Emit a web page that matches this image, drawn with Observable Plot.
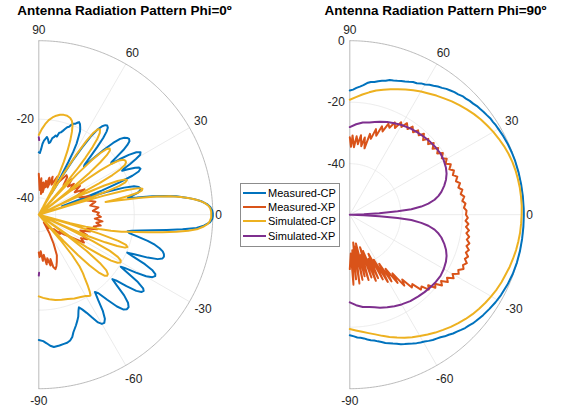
<!DOCTYPE html>
<html>
<head>
<meta charset="utf-8">
<script src="https://cdn.jsdelivr.net/npm/d3@7"></script>
<script src="https://cdn.jsdelivr.net/npm/@observablehq/plot@0.6"></script>
<style>
  html, body { margin: 0; padding: 0; background: #fff; }
  #wrap { position: relative; width: 569px; height: 410px; overflow: hidden; font-family: "Liberation Sans", Arial, sans-serif; }
  .panel { position: absolute; top: 0; }
  .title { position: absolute; top: 4px; font-weight: bold; font-size: 13.5px; line-height: 14px; color: #000; white-space: nowrap; transform: translateX(-50%); z-index: 3; }
  #legend { position: absolute; left: 240px; top: 183px; width: 98px; height: 62px; border: 1px solid #8c8c8c; background: #fff; z-index: 4; font-size: 11px; color: #000; }
  .row { position: absolute; left: 2px; height: 14px; line-height: 14px; white-space: nowrap; }
  .row span.sw { position: absolute; left: 0; top: 6px; width: 23px; height: 2px; }
  .row span.tx { position: absolute; left: 25px; top: 0; }
</style>
</head>
<body>
<div id="wrap"></div>
<script>
// ---------------- data ----------------
const seriesNames = ["Measured-CP", "Measured-XP", "Simulated-CP", "Simulated-XP"];
const seriesColors = ["#0072BD", "#D95319", "#EDB120", "#7E2F8E"];
const titles = ["Antenna Radiation Pattern Phi=0º", "Antenna Radiation Pattern Phi=90º"];
const thetaTicks = [90, 60, 30, 0, -30, -60, -90];
const thetaTickLabels = ["90", "60", "30", "0", "-30", "-60", "-90"];
const phi0RLim = [-44.3, 0];
const phi0RTicks = [-40, -20];
const phi90RLim = [-56.6, 0];
const phi90RTicks = [-40, -20, 0];

// Phi = 0 cut: [theta (deg), gain (dB)]
const phi0MeasuredCP = [[90,-28.4],[89,-28.6],[88,-27.6],[87,-26.2],[86,-25.4],[85,-24.9],[84,-24.4],[83,-25],[82,-25.9],[81,-25.6],[80,-24.5],[79,-24.2],[78,-23.7],[77,-23.9],[76,-22.8],[75,-22.6],[74,-22.1],[73,-21.5],[72,-20.9],[71,-20.6],[70,-19.9],[69,-19.5],[68,-19.3],[67,-18.8],[66.5,-18.6],[65.5,-19],[64.5,-19.8],[63.7,-20.6],[63,-22],[62,-23.8],[61.3,-26],[60.7,-29],[60,-33],[59.3,-38],
  [58.6,-33],[58,-28],[57.2,-24],[56.4,-20.5],[55.4,-18],[54.4,-16.6],[53.4,-15.9],[52.5,-15.7],[51.6,-16],[50.8,-17],[50,-18.8],[49.2,-21.5],[48.4,-24.5],[47.6,-27],
  [46.8,-27.5],[46,-24.5],[45,-21],[44,-18],[43,-16],[42,-15],[41,-14.5],[40,-14.3],[39,-14.6],[38.2,-15.6],[37.4,-17.2],[36.6,-19.5],[35.8,-21.5],
  [35.2,-21.8],[34.5,-19.5],[33.6,-16.8],[32.6,-14.8],[31.6,-13.9],[30.6,-14.3],[29.8,-15.8],[29,-17.8],[28.3,-19.8],
  [27.8,-20.3],[27,-18.8],[26,-17],[25.2,-16.1],[24.3,-15.9],[23.4,-16.6],[22.6,-18.5],[21.8,-22],[21,-27],[20.4,-33],[20,-38],
  [19.4,-32],[18.6,-26],[17.6,-21.5],[16.6,-19],[15.5,-17.9],[14.5,-17.6],[13.5,-17.7],[12.5,-18.5],[11.5,-20],[10.7,-21.2],
  [10,-19],[9.2,-15],[8.5,-12],[7.6,-9],[6.6,-6.5],[5.6,-4.3],[4.6,-2.6],[3.6,-1.4],[2.6,-0.6],[1.5,-0.15],[0.5,0],[0,0],
  [-0.5,0],[-1.5,-0.15],[-2.6,-0.7],[-3.8,-2.2],[-4.8,-4],[-5.8,-7.5],[-6.8,-11.5],[-7.8,-15],[-8.8,-18],[-9.8,-20.3],[-10.6,-21.3],[-11.5,-20.8],[-12.5,-18.5],[-13.5,-15.8],[-14.5,-13.8],[-15.5,-12.4],[-16.5,-11.4],[-17.5,-10.9],[-18.5,-10.7],[-19.5,-10.9],[-20.5,-12],[-21.5,-14.5],[-22.5,-18],[-23.2,-19.8],
  [-24,-18],[-25,-14.5],[-26,-12.2],[-27,-11],[-27.8,-10.8],[-28.8,-11.3],[-29.8,-12.8],[-30.8,-15.5],[-31.8,-18.6],[-32.4,-19.6],
  [-33.2,-17.5],[-34.2,-13.8],[-35.2,-11.8],[-36,-11.3],[-37,-11.6],[-38,-12.8],[-39.2,-15.5],[-40.4,-18.5],[-41.2,-19.4],
  [-42.2,-17.5],[-43.4,-14.4],[-44.6,-12.4],[-45.8,-11.5],[-47,-11.4],[-48.2,-11.9],[-49.6,-13.6],[-51.2,-16.5],[-52.8,-19.2],[-54,-20],
  [-55.2,-17.8],[-56.4,-14.8],[-57.6,-12.9],[-58.8,-12.1],[-60,-12.2],[-61.2,-13],[-62.6,-14.8],[-64,-16.5],[-65.4,-17.8],[-66.6,-18.6],
  [-67.6,-17.8],[-68.8,-16.5],[-70,-15.6],[-71.4,-14.6],[-72.6,-13.8],[-73.6,-13.1],[-74.7,-12],[-76,-11.3],[-77.5,-10.9],[-79,-10.8],[-81,-10.6],[-83.5,-10.4],[-85,-10.8],[-86.5,-11.5],[-88,-12.1],[-90,-12.4]];
const phi0MeasuredXP = [[90,-33.9],[88,-38],[86,-35],[84,-39],[82,-36],[80,-38.5],[78,-35.5],[76.3,-37.1],[74,-34.5],[72,-37],[70,-34],[67,-36],[64,-33.5],[61,-35.5],[57.6,-34],[55,-32],[52.9,-32.3],[50,-34.5],[47,-32],[44,-34],[41.4,-32.4],[38,-34.5],[35,-31.5],[32,-33.5],[29,-31],[26,-33.5],[22.8,-32.8],[20,-30.5],[16.4,-31.5],[13,-29.5],[10,-31],[7,-29],[4,-30.5],[2,-29],[0,-29.4],
  [-2,-28.5],[-4,-30],[-6,-28],[-8,-29.5],[-10,-28.3],[-12,-30],[-14,-29],[-16,-31.5],[-18,-30.5],[-20.8,-33],[-23,-31],[-25,-32.5],[-27,-30.5],[-29,-32],[-31.7,-30.8],[-34,-33.5],[-36,-35],[-38,-36.2],[-40,-37.5],[-42,-37],[-44,-39],[-47,-38.5],[-50,-40.5],[-53,-40],[-57,-41.9],[-60,-39],[-63,-36],[-66,-33],[-69,-31.5],[-71,-30.5],[-73,-29.8],[-74.5,-30.5],[-75.3,-32.6],[-77,-31],[-79,-33],[-81,-31.5],[-83,-34],[-85,-32.5],[-87,-35],[-89,-33.5],[-90,-34.7]];
const phi0SimulatedCP = [[90,-24],[88,-22.5],[86,-21.2],[84,-20.1],[82,-19.3],[80,-18.7],[78,-18.3],[76,-18.1],[74,-18.1],[72,-18.4],[70.5,-19],[69.3,-20],[68.2,-21.6],[67,-23.8],[65.8,-26.5],[64.6,-29.5],[63.4,-33],[62.2,-37],[61,-42],[60.4,-46],
  [59.6,-40],[58.8,-32],[58,-26],[57.2,-22],[56.3,-19.2],[55.3,-17.8],[54.3,-17.6],[53.3,-18.3],[52.4,-19.8],[51.5,-22.3],[50.7,-25.5],[49.9,-29.5],[49.1,-35],[48.5,-41],[48,-46],
  [47.4,-38],[46.6,-30],[45.8,-25],[45,-22],[44.1,-20.3],[43.1,-19.6],[42.1,-19.9],[41.2,-21.3],[40.4,-23.8],[39.6,-27.5],[38.9,-32],[38.3,-38],[37.8,-46],
  [37.2,-38],[36.5,-30],[35.8,-25],[35,-21.8],[34,-19.6],[33,-18.6],[32,-18.3],[31,-18.4],[30,-19],[29.1,-20.5],[28.3,-23],[27.5,-27],[26.8,-32],[26.2,-38],[25.7,-46],
  [25.2,-38],[24.6,-31],[24,-26],[23.2,-22.5],[22.3,-20.6],[21.4,-20.2],[20.5,-20.8],[19.7,-22.5],[19,-25.5],[18.4,-30],[17.9,-36],[17.4,-46],
  [16.9,-36],[16.3,-27],[15.6,-21],[14.9,-18],[14.1,-17.1],[13.3,-17.3],[12.5,-18.5],[11.8,-21],[11.2,-24.5],[10.7,-27],
  [10.2,-23.5],[9.5,-18],[8.8,-14],[8,-10.6],[7.1,-7.8],[6.1,-5.3],[5.1,-3.4],[4.1,-2],[3.1,-1.1],[2.1,-0.6],[1,-0.4],[0,-0.4],
  [-1,-0.4],[-2.1,-0.7],[-3.1,-1.2],[-4.1,-2.2],[-5.1,-3.6],[-6.1,-6],[-7.1,-9],[-8.1,-12.5],[-9.1,-16],[-10.1,-19.3],[-10.8,-21],[-11.6,-22.8],[-12.5,-25.5],[-13.4,-28.5],[-14.3,-32],[-15.3,-36],[-16,-44],
  [-16.7,-36],[-17.4,-28],[-18.2,-23],[-19.1,-20.8],[-20,-20.3],[-20.9,-20.8],[-21.8,-22.8],[-22.6,-26],[-23.4,-30.5],[-24.1,-36],[-24.7,-44],
  [-25.3,-36],[-26,-29],[-27,-24],[-28.1,-21.5],[-29.2,-20.4],[-30.3,-20.2],[-31.4,-20.8],[-32.4,-22.5],[-33.3,-25.5],[-34.2,-29.5],[-35,-35],[-35.7,-44],
  [-36.4,-36],[-37.2,-29],[-38.3,-24.5],[-39.5,-22],[-40.7,-21.1],[-41.8,-21],[-42.9,-21.5],[-44,-23.2],[-45,-26],[-45.9,-30],[-46.7,-35],[-47.4,-44],
  [-48.5,-44],[-49.5,-36],[-50.5,-31],[-51.8,-27.5],[-53,-25.6],[-54.2,-24.2],[-55.5,-22.2],[-56.5,-20.8],[-57.4,-19.9],[-58.5,-20],[-60,-20.4],[-63,-20.8],[-67,-21.1],[-71,-21.6],[-75,-21.9],[-79,-22.2],[-83,-22.6],[-87,-23.1],[-90,-23.5]];
const phi0SimulatedXPTop = [[90,-24.6],[89.7,-25.3]];
const phi0SimulatedXPBottom = [[-90,-28.8],[-89.7,-29.5]];

// Phi = 90 cut
const phi90MeasuredCP = [[90,-16.2],[88.5,-15.9],[87,-15.3],[85.5,-14.8],[84,-14.2],[82.5,-13.4],[81,-12.9],[79.5,-12.7],[78,-12.2],[76.5,-11.8],[75,-11.5],[73.5,-10.9],[72,-10.7],[70.5,-10.4],[69,-10.0],[67.5,-9.7],[66,-9.3],[64.5,-8.8],[63,-8.6],[61.5,-8.0],[60,-7.7],[58.5,-7.0],[57,-6.6],[55.5,-6.0],[54,-5.6],[52.5,-5.0],[51,-4.6],[49.5,-4.2],[48,-3.9],[46.5,-3.4],[45,-3.2],[43.5,-2.8],[42,-2.6],[40.5,-2.2],[39,-2.0],[37.5,-1.7],[36,-1.5],[34.5,-1.2],[33,-1.1],[31.5,-0.9],[30,-0.8],[27,-0.5],[24,-0.3],[21,-0.15],[18,-0.05],[14,0],[10,0.05],[6,0],[2,0],[0,0],[-4,0],[-8,0.05],[-12,0],[-16,-0.05],[-20,-0.2],[-24,-0.5],[-28,-0.9],[-31,-1.3],[-34,-1.8],[-37,-2.3],[-40,-2.9],[-41.5,-3.2],[-43,-3.7],[-44.5,-4.0],[-46,-4.5],[-47.5,-5.0],[-49,-5.4],[-50.5,-6.0],[-52,-6.4],[-53.5,-7.0],[-55,-7.4],[-56.5,-7.7],[-58,-8.2],[-59.5,-8.7],[-61,-9.1],[-62.5,-9.5],[-64,-10.0],[-65.5,-10.5],[-67,-10.9],[-68.5,-11.3],[-70,-11.9],[-71.5,-12.4],[-73,-12.9],[-74.5,-13.3],[-76,-13.9],[-77.5,-14.4],[-79,-14.9],[-80.5,-15.2],[-82,-15.6],[-83.5,-16.1],[-85,-16.4],[-86.5,-16.6],[-88,-17.0],[-90,-17.4]];
const phi90MeasuredXP = [[90,-31.4],[89,-34.5],[88,-30.8],[86.5,-34.6],[85,-31],[83.5,-33.5],[82,-30.5],[80.5,-34],[79,-31],[77.5,-34.5],[76,-29.5],[74.5,-31],[73,-27.5],[71.5,-29.5],[70,-26],[68.5,-27.5],[67,-24.5],[65.5,-25.5],[64,-23.2],[62.5,-24.8],[61,-22.2],[59.5,-23.5],[58,-21.5],[56,-23],[54.5,-21.4],[52.5,-22.8],[51,-21.3],[49,-22.4],[47.5,-20.9],[45.5,-22.6],[44,-21.1],[42,-22.3],[40.5,-20.7],[38.5,-22.2],[37,-20.6],[35,-21.9],[33.5,-20.3],[31.5,-21.5],[30,-20.2],[28,-21.3],[26.5,-19.9],[24.5,-21],[23,-19.8],[21,-20.7],[19.5,-19.5],[17.5,-20.4],[16,-19.3],[14,-20.2],[12.5,-19.1],[10.5,-19.9],[9,-18.9],[7,-19.7],[5.5,-18.8],[3.5,-19.4],[2,-18.6],[0,-18.8],
  [-1.5,-18.2],[-3,-18.9],[-4.5,-17.9],[-6,-18.6],[-7.5,-17.5],[-9,-18.2],[-10.5,-17.1],[-12,-17.7],[-13.5,-16.6],[-15,-17.3],[-16.5,-16.2],[-18,-16.9],[-19.5,-15.8],[-21,-16.5],[-22.5,-15.4],[-24,-16.3],[-25.5,-15.6],[-27,-17],[-28.5,-16.3],[-30,-18],[-31.5,-17],[-33,-18.9],[-34.5,-17.9],[-36,-19.9],[-37.5,-18.8],[-39,-20.9],[-40.5,-20],[-42,-22.3],[-43.5,-21.2],[-45,-23.6],[-46.5,-23],[-48,-26.2],[-49.5,-25.5],[-51,-29.5],[-52.5,-27.5],[-54,-33],[-55,-29.5],[-56.5,-35.5],[-58,-31],[-59,-38],[-60.5,-31.5],[-62,-40],[-63,-33],[-64.5,-42.5],[-66,-34],[-67,-41],[-68.5,-33.5],[-70,-44],[-71,-35],[-72.5,-45.5],[-74,-34.5],[-75,-43],[-76.5,-36],[-78,-47],[-79,-35],[-80.5,-46],[-82,-34],[-83,-47.5],[-84.5,-35.5],[-86,-45],[-87,-33.8],[-88.5,-44],[-90,-38.9]];
const phi90SimulatedCP = [[90,-19.2],[87,-18.3],[84,-17.3],[81,-16.3],[78,-15.3],[75,-14.5],[72,-13.7],[69,-12.9],[66,-12.0],[63,-11.2],[60,-10.3],[57,-9.6],[54,-8.7],[51,-7.9],[48,-7.0],[45,-6.2],[42,-5.4],[39,-4.6],[36,-3.9],[33,-3.3],[30,-2.7],[27,-2.2],[24,-1.7],[21,-1.3],[18,-1.0],[15,-0.8],[12,-0.7],[9,-0.6],[6,-0.6],[3,-0.6],[0,-0.7],[-3,-0.8],[-6,-0.9],[-9,-1.1],[-12,-1.3],[-15,-1.6],[-18,-1.9],[-21,-2.3],[-24,-2.6],[-27,-3.0],[-30,-3.5],[-33,-4.0],[-36,-4.6],[-39,-5.2],[-42,-5.9],[-45,-6.7],[-48,-7.5],[-51,-8.4],[-54,-9.2],[-57,-10.1],[-60,-11.0],[-63,-11.9],[-66,-12.8],[-69,-13.8],[-72,-14.8],[-75,-15.8],[-78,-16.8],[-81,-17.6],[-84,-18.3],[-87,-18.9],[-90,-19.4]];
const phi90SimulatedXP = [[90,-28.1],[86,-27.1],[82,-26.3],[78,-25.9],[75,-25.4],[72,-24.8],[68,-24.1],[64,-23.5],[60,-22.9],[55,-22.3],[50,-21.9],[46,-21.6],[42,-21.3],[38,-21.1],[34,-21.0],[30,-21.3],[26,-21.8],[23,-22.4],[20,-23.3],[17,-24.5],[14,-25.9],[12,-27.1],[10,-28.6],[8,-30.8],[6.5,-33.2],[5,-36.5],[4,-41],[3,-47],[2,-52],[1,-56],[0,-70],
  [-1,-56],[-2,-52],[-3,-47],[-4,-41],[-5,-36.5],[-6.5,-33.2],[-8,-30.8],[-10,-28.6],[-12,-27.1],[-14,-25.9],[-17,-24.5],[-20,-23.3],[-23,-22.4],[-26,-21.8],[-30,-21.3],[-34,-21.0],[-38,-21.1],[-42,-21.3],[-46,-21.6],[-50,-21.9],[-55,-22.3],[-60,-22.9],[-64,-23.5],[-68,-24.1],[-72,-24.8],[-75,-25.4],[-78,-25.9],[-82,-26.3],[-86,-27.1],[-90,-28.1]];

// ---------------- drawing ----------------
const H = 410, CY = 214.2, R = 174;
const rad = t => t * Math.PI / 180;
const labelRadius = {"90": 1.063, "60": 1.075, "30": 1.074, "0": 1.034, "-30": 1.09, "-60": 1.09, "-90": 1.071};

function polarPanel({width, cx, rlim, rticks, lines}) {
  const [rmin, rmax] = rlim;
  const u = v => Math.max(0, Math.min(1, (v - rmin) / (rmax - rmin)));
  const arc = d3.range(-90, 90.001, 0.5);
  const grid = "#e6e6e6", edge = "#a8a8a8", tick = "#262626";
  const marks = [];
  for (const rt of rticks) {
    if (rt < rmax) marks.push(Plot.line(arc, {x: t => u(rt) * Math.cos(rad(t)), y: t => u(rt) * Math.sin(rad(t)), stroke: grid, strokeWidth: 0.8}));
  }
  marks.push(Plot.link([60, 30, 0, -30, -60], {x1: () => 0, y1: () => 0, x2: t => Math.cos(rad(t)), y2: t => Math.sin(rad(t)), stroke: grid, strokeWidth: 0.8}));
  marks.push(Plot.line(arc, {x: t => Math.cos(rad(t)), y: t => Math.sin(rad(t)), stroke: edge, strokeWidth: 0.8}));
  marks.push(Plot.link([0], {x1: () => 0, y1: () => -1, x2: () => 0, y2: () => 1, stroke: edge, strokeWidth: 0.8}));
  marks.push(Plot.text(thetaTicks, {
    x: (t, i) => labelRadius[thetaTickLabels[i]] * Math.cos(rad(t)),
    y: (t, i) => labelRadius[thetaTickLabels[i]] * Math.sin(rad(t)),
    text: (t, i) => thetaTickLabels[i], fontSize: 12, fill: tick
  }));
  marks.push(Plot.text(rticks, {x: () => 0, y: rt => u(rt), text: rt => String(rt), textAnchor: "end", dx: -5, fontSize: 12, fill: tick}));
  for (const ln of lines) {
    marks.push(Plot.line(ln.data, {x: d => u(d[1]) * Math.cos(rad(d[0])), y: d => u(d[1]) * Math.sin(rad(d[0])), stroke: ln.color, strokeWidth: 2, strokeLinejoin: "round", strokeLinecap: "round"}));
  }
  return Plot.plot({
    width, height: H, margin: 0,
    x: {domain: [-cx / R, (width - cx) / R], axis: null},
    y: {domain: [(CY - H) / R, CY / R], axis: null},
    style: {background: "transparent", overflow: "visible", fontFamily: "Liberation Sans, Arial, sans-serif"},
    marks
  });
}

const wrap = document.getElementById("wrap");

const left = polarPanel({
  width: 285, cx: 38.3, rlim: phi0RLim, rticks: phi0RTicks,
  lines: [
    {data: phi0MeasuredCP, color: seriesColors[0]},
    {data: phi0MeasuredXP, color: seriesColors[1]},
    {data: phi0SimulatedCP, color: seriesColors[2]},
    {data: phi0SimulatedXPTop, color: seriesColors[3]},
    {data: phi0SimulatedXPBottom, color: seriesColors[3]}
  ]
});
left.classList.add("panel"); left.style.left = "0px";
wrap.appendChild(left);

const right = polarPanel({
  width: 284, cx: 64.3, rlim: phi90RLim, rticks: phi90RTicks,
  lines: [
    {data: phi90MeasuredCP, color: seriesColors[0]},
    {data: phi90MeasuredXP, color: seriesColors[1]},
    {data: phi90SimulatedCP, color: seriesColors[2]},
    {data: phi90SimulatedXP, color: seriesColors[3]}
  ]
});
right.classList.add("panel"); right.style.left = "285px";
wrap.appendChild(right);

[[titles[0], 124.5], [titles[1], 435.5]].forEach(([t, x]) => {
  const d = document.createElement("div");
  d.className = "title"; d.textContent = t; d.style.left = x + "px";
  wrap.appendChild(d);
});

const legend = document.createElement("div");
legend.id = "legend";
seriesNames.forEach((name, i) => {
  const row = document.createElement("div");
  row.className = "row";
  row.style.top = (2 + i * 14.2) + "px";
  const sw = document.createElement("span"); sw.className = "sw"; sw.style.background = seriesColors[i];
  const tx = document.createElement("span"); tx.className = "tx"; tx.textContent = name;
  row.appendChild(sw); row.appendChild(tx);
  legend.appendChild(row);
});
wrap.appendChild(legend);
</script>
</body>
</html>
